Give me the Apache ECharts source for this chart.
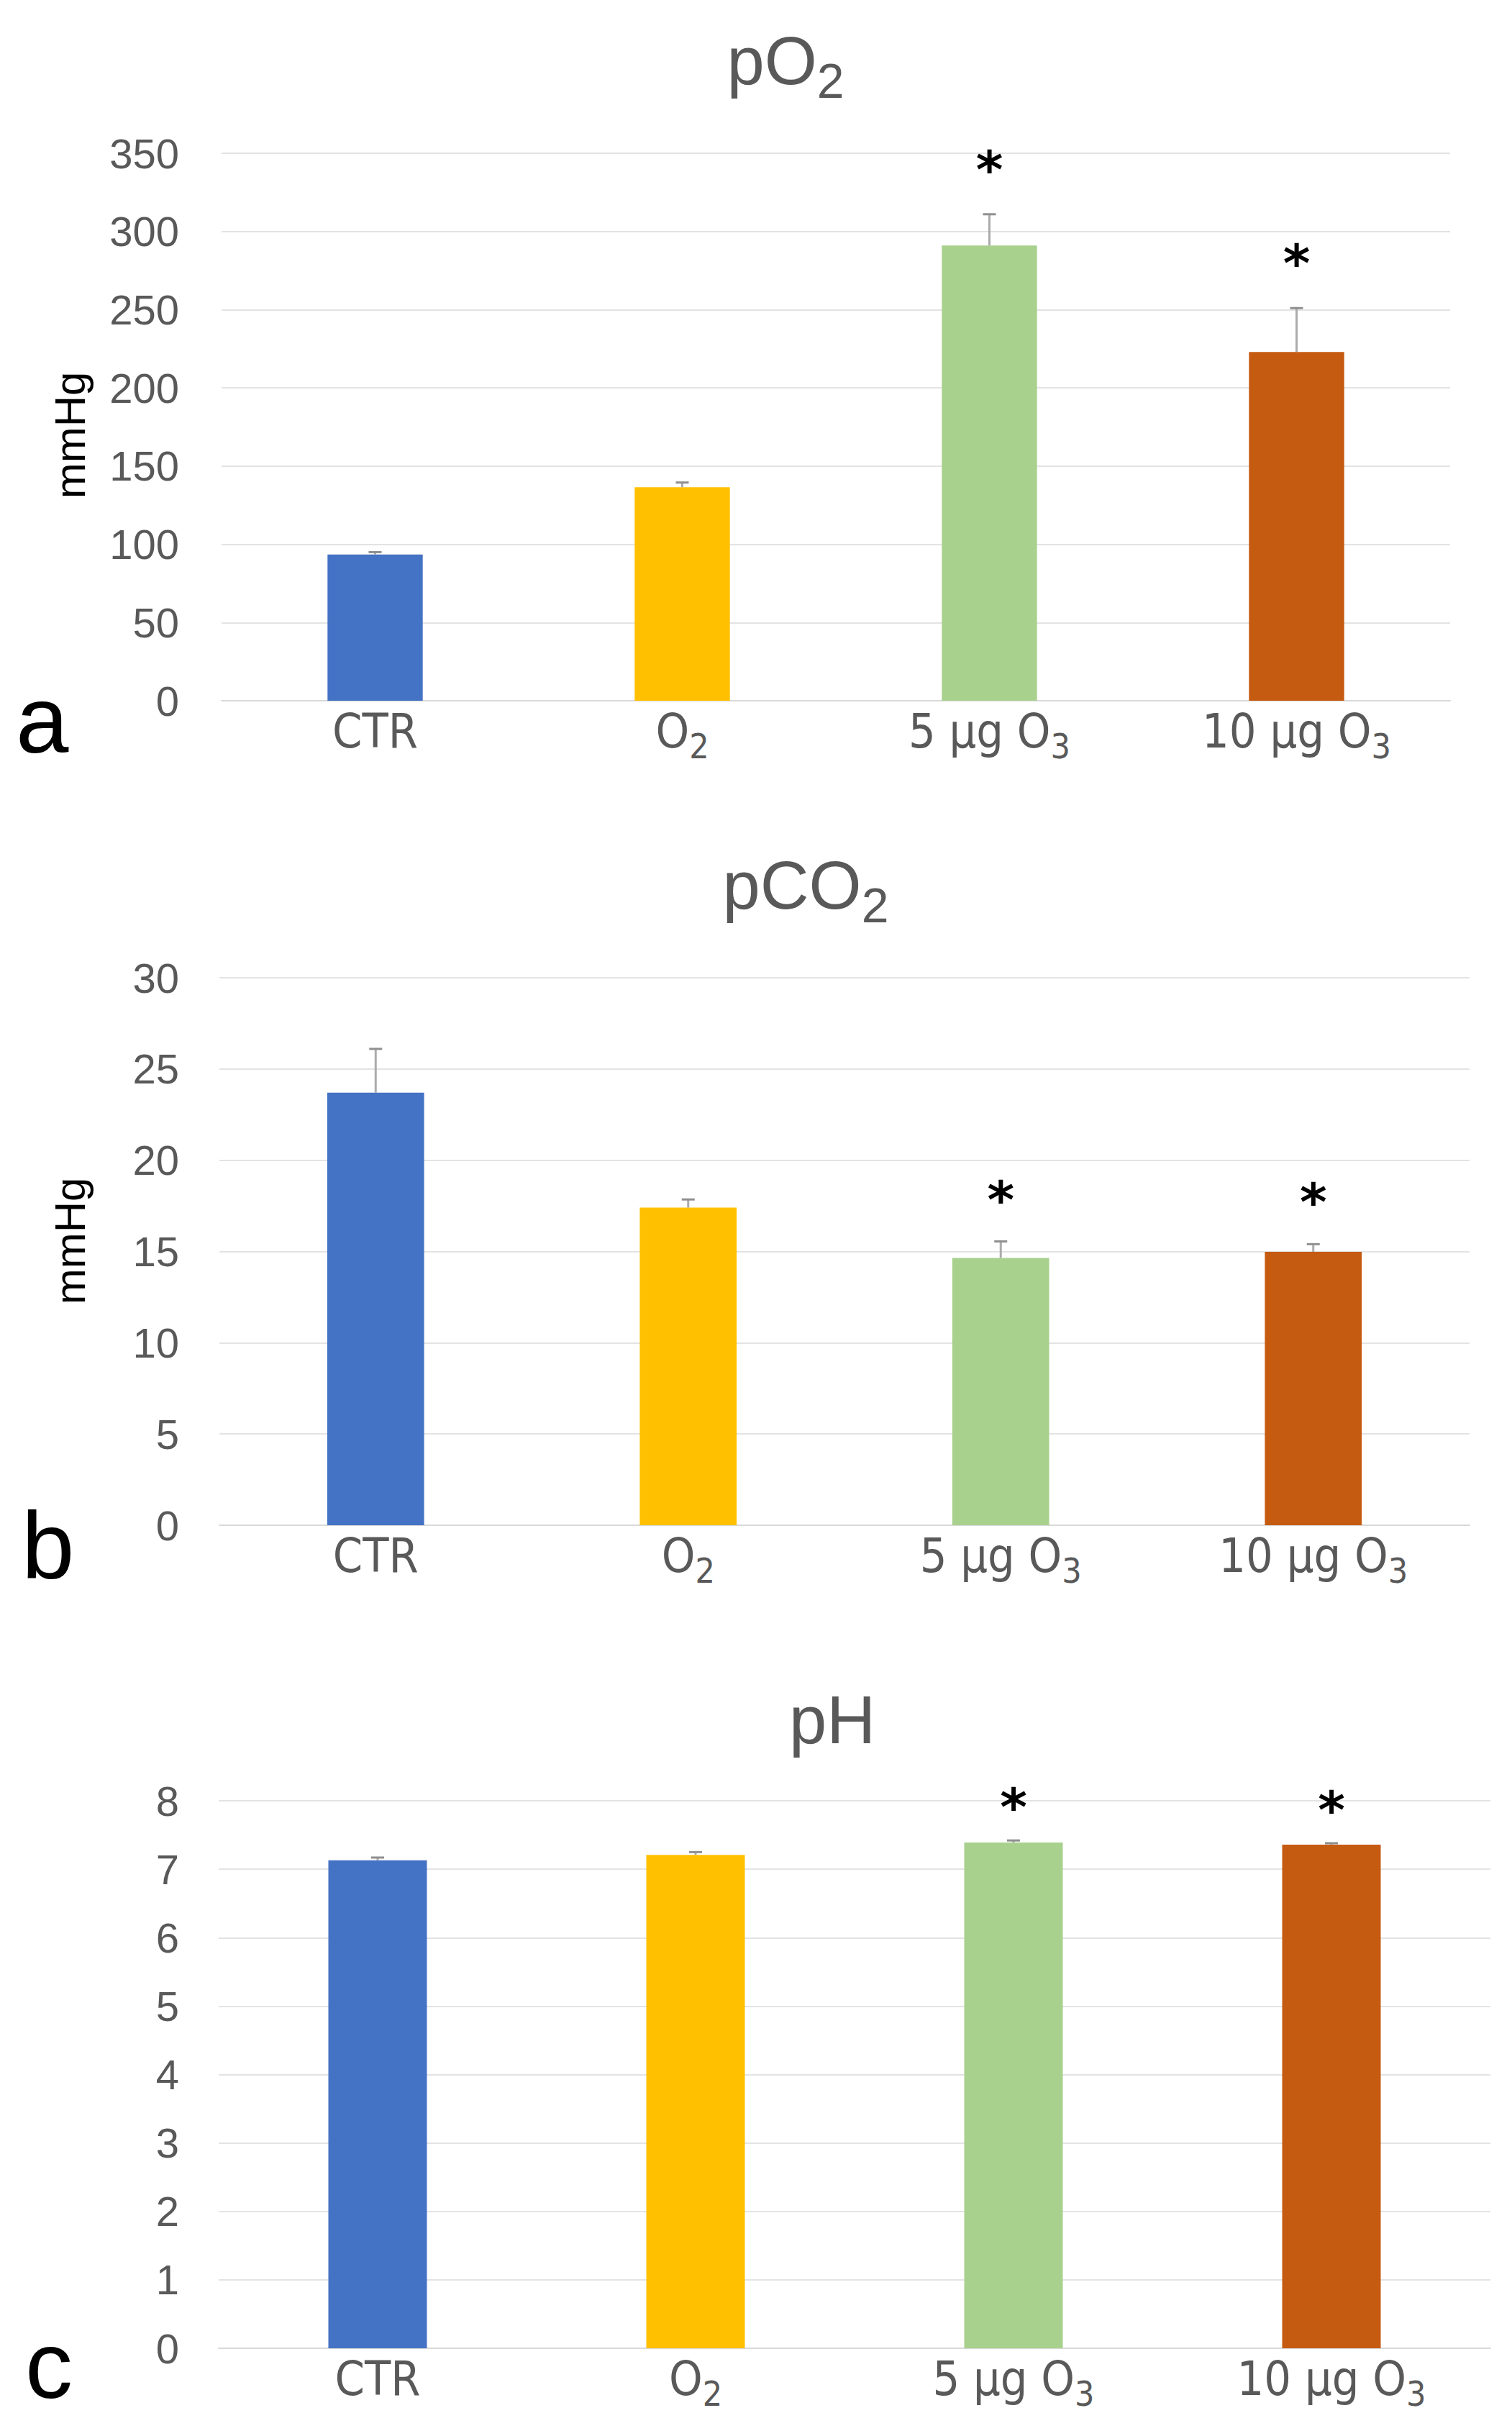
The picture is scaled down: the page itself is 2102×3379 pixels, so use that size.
<!DOCTYPE html>
<html><head><meta charset="utf-8">
<script src="https://cdn.jsdelivr.net/npm/echarts@6/dist/echarts.min.js"></script>
<style>html,body{margin:0;padding:0;background:#fff}#c{width:2102px;height:3379px}</style>
</head><body><div id="c"></div>
<script>
// ---- data ----
const categories = ['CTR', 'O2', '5 µg O3', '10 µg O3'];
const barColors = ['#4472C4', '#FFC000', '#A9D18E', '#C55A11'];

const pO2Mean = [93.5, 136.5, 291, 223];
const pO2Err = [1.5, 3, 20, 28];
const pO2Sig = [0, 0, 1, 1];
const pO2Ticks = [0, 50, 100, 150, 200, 250, 300, 350];

const pCO2Mean = [23.7, 17.4, 14.65, 14.98];
const pCO2Err = [2.4, 0.45, 0.9, 0.42];
const pCO2Sig = [0, 0, 1, 1];
const pCO2Ticks = [0, 5, 10, 15, 20, 25, 30];

const pHMean = [7.13, 7.21, 7.39, 7.36];
const pHErr = [0.04, 0.04, 0.03, 0.02];
const pHSig = [0, 0, 1, 1];
const pHTicks = [0, 1, 2, 3, 4, 5, 6, 7, 8];

const titles = [['pO', '2'], ['pCO', '2'], ['pH', '']];
const panelLetters = ['a', 'b', 'c'];
const yNames = ['mmHg', 'mmHg', ''];

// ---- layout / style ----
const grids = [
  {left: 308, top: 213, width: 1708, height: 761},
  {left: 305, top: 1359, width: 1738, height: 761},
  {left: 304, top: 2503, width: 1768, height: 761}
];
const titlePos = [[1092, 37], [1120, 1183], [1157, 2343]];
const letterPos = [[22, 1000], [30, 2148], [35, 3287]];
const yNamePos = [[97, 605], [97, 1725]];
const starOffset = [62, 58, 46];

const GRAY = '#595959';
const NARROW = "'Liberation Sans Narrow','DejaVu Sans Condensed','Liberation Sans',sans-serif";
const SANS = "'Liberation Sans',Arial,sans-serif";

const panels = [
  {mean: pO2Mean, err: pO2Err, sig: pO2Sig, ticks: pO2Ticks},
  {mean: pCO2Mean, err: pCO2Err, sig: pCO2Sig, ticks: pCO2Ticks},
  {mean: pHMean, err: pHErr, sig: pHSig, ticks: pHTicks}
];

function catLabel(v) {
  const m = v.match(/^(.*O)(\d)$/);
  return m ? '{m|' + m[1] + '}{s|' + m[2] + '}' : '{m|' + v + '}';
}

const xRich = {
  m: {fontSize: 66, lineHeight: 72, verticalAlign: 'top', fontFamily: NARROW, color: GRAY},
  s: {fontSize: 48, lineHeight: 48, padding: [30, 0, 0, 0], verticalAlign: 'top', fontFamily: NARROW, color: GRAY}
};
const titleRich = {
  m: {fontSize: 94, lineHeight: 100, verticalAlign: 'top', fontFamily: SANS, fill: GRAY, color: GRAY},
  s: {fontSize: 68, lineHeight: 68, padding: [41, 0, 0, 0], verticalAlign: 'top', fontFamily: SANS, fill: GRAY, color: GRAY}
};

const xAxes = [], yAxes = [], series = [], graphics = [];

panels.forEach((p, k) => {
  const t = p.ticks;
  xAxes.push({
    type: 'category', gridIndex: k, data: categories,
    axisLine: {show: true, lineStyle: {color: '#D9D9D9', width: 2}},
    axisTick: {show: false},
    axisLabel: {margin: 9, formatter: catLabel, rich: xRich}
  });
  yAxes.push({
    type: 'value', gridIndex: k, min: t[0], max: t[t.length - 1], interval: t[1] - t[0],
    axisLine: {show: false}, axisTick: {show: false},
    splitLine: {lineStyle: {color: '#E3E3E3', width: 2}},
    axisLabel: {margin: grids[k].left - 249, fontSize: 58, fontFamily: SANS, color: GRAY}
  });
  series.push({
    type: 'bar', xAxisIndex: k, yAxisIndex: k, barWidth: '31%',
    data: p.mean.map((v, i) => ({value: v, itemStyle: {color: barColors[i]}})),
    z: 2
  });
  series.push({
    type: 'custom', xAxisIndex: k, yAxisIndex: k, z: 5, clip: false,
    encode: {x: 0, y: 1},
    data: p.mean.map((v, i) => [i, v, p.err[i], p.sig[i]]),
    renderItem: (params, api) => {
      const x = api.value(0), m = api.value(1), e = api.value(2), s = api.value(3);
      const b = api.coord([x, m]);
      const tp = api.coord([x, m + e]);
      const ch = [
        {type: 'line', shape: {x1: b[0], y1: b[1], x2: tp[0], y2: tp[1]}, style: {stroke: '#ABABAB', lineWidth: 3}},
        {type: 'line', shape: {x1: tp[0] - 9, y1: tp[1], x2: tp[0] + 9, y2: tp[1]}, style: {stroke: '#8F8F8F', lineWidth: 3}}
      ];
      if (s) ch.push({type: 'text', x: tp[0], y: tp[1] - starOffset[k],
        style: {text: '*', fontSize: 72, fontWeight: 'bold', fontFamily: "'DejaVu Sans',sans-serif", fill: '#000', align: 'center', verticalAlign: 'middle'}});
      return {type: 'group', children: ch};
    }
  });
  graphics.push({
    type: 'text', x: titlePos[k][0], y: titlePos[k][1],
    style: {text: '{m|' + titles[k][0] + '}' + (titles[k][1] ? '{s|' + titles[k][1] + '}' : ''), rich: titleRich, fill: GRAY, align: 'center', verticalAlign: 'top'}
  });
  graphics.push({
    type: 'text', x: letterPos[k][0], y: letterPos[k][1],
    style: {text: panelLetters[k], fontSize: 132, fontFamily: SANS, fill: '#000', align: 'left', verticalAlign: 'middle'}
  });
  if (yNames[k]) graphics.push({
    type: 'text', x: yNamePos[k][0], y: yNamePos[k][1], rotation: Math.PI / 2,
    style: {text: yNames[k], fontSize: 60, fontFamily: SANS, fill: '#000', align: 'center', verticalAlign: 'middle'}
  });
});

const chart = echarts.init(document.getElementById('c'), null, {renderer: 'svg'});
chart.setOption({
  animation: false,
  backgroundColor: '#fff',
  grid: grids,
  xAxis: xAxes,
  yAxis: yAxes,
  series: series,
  graphic: graphics
});
</script>
</body></html>
